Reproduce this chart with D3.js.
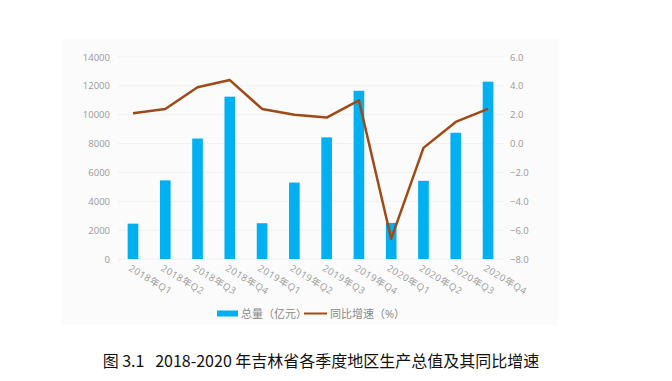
<!DOCTYPE html>
<html>
<head>
<meta charset="utf-8">
<script src="https://cdn.jsdelivr.net/npm/d3@7"></script>
<style>
  html, body { margin: 0; padding: 0; background: #fff; }
  svg { display: block; }
</style>
</head>
<body>
<svg id="chart"></svg>
<script>
// quarters, totals (亿元) and yoy growth (%)
const quarters = ["2018年Q1", "2018年Q2", "2018年Q3", "2018年Q4",
                  "2019年Q1", "2019年Q2", "2019年Q3", "2019年Q4",
                  "2020年Q1", "2020年Q2", "2020年Q3", "2020年Q4"];
const totals = [2450, 5450, 8350, 11250, 2480, 5300, 8430, 11660, 2500, 5420, 8750, 12290];
const growth = [2.1, 2.4, 3.9, 4.4, 2.4, 2.0, 1.8, 3.0, -6.6, -0.3, 1.5, 2.4];
const leftTicks = [0, 2000, 4000, 6000, 8000, 10000, 12000, 14000];
const rightTicks = [-8, -6, -4, -2, 0, 2, 4, 6];

const W = 672, H = 381;
const svg = d3.select("#chart").attr("width", W).attr("height", H);

// faint panel behind the chart
svg.append("rect")
    .attr("x", 62).attr("y", 39)
    .attr("width", 496).attr("height", 286)
    .attr("fill", "#fbfbfb");

const x = d3.scaleBand()
    .domain(quarters)
    .range([117, 504])
    .paddingInner(0.67)
    .paddingOuter(0.33);

const yL = d3.scaleLinear().domain([0, 14000]).range([259, 57]);
const yR = d3.scaleLinear().domain([-8, 6]).range([259, 57]);

const font = "'Open Sans', 'Noto Sans CJK SC', sans-serif";

// gridlines
svg.append("g")
    .selectAll("line")
    .data(leftTicks)
    .join("line")
    .attr("x1", 118).attr("x2", 504)
    .attr("y1", d => yL(d)).attr("y2", d => yL(d))
    .attr("stroke", "#f0f0f0")
    .attr("stroke-width", 1);

// left axis
const axL = svg.append("g")
    .attr("transform", "translate(110,0)")
    .call(d3.axisLeft(yL).tickValues(leftTicks).tickSize(0).tickPadding(0).tickFormat(d3.format("d")));
axL.select(".domain").remove();
axL.selectAll("text")
    .attr("fill", "#999")
    .style("font-family", font)
    .style("font-size", "9.5px");

// right axis
const axR = svg.append("g")
    .attr("transform", "translate(510,0)")
    .call(d3.axisRight(yR).tickValues(rightTicks).tickSize(0).tickPadding(0).tickFormat(d3.format(".1f")));
axR.select(".domain").remove();
axR.selectAll("text")
    .attr("fill", "#999")
    .style("font-family", font)
    .style("font-size", "9.5px");

// bars
svg.append("g")
    .selectAll("rect")
    .data(quarters)
    .join("rect")
    .attr("x", d => x(d))
    .attr("width", x.bandwidth())
    .attr("y", (d, i) => yL(totals[i]))
    .attr("height", (d, i) => yL(0) - yL(totals[i]))
    .attr("fill", "#00b0f0");

// growth line
const line = d3.line()
    .x((d, i) => x(quarters[i]) + x.bandwidth() / 2)
    .y(d => yR(d));

svg.append("path")
    .datum(growth)
    .attr("fill", "none")
    .attr("stroke", "#9e4a16")
    .attr("stroke-width", 2.5)
    .attr("stroke-linejoin", "round")
    .attr("d", line);

// x labels, slanted
svg.append("g")
    .selectAll("text")
    .data(quarters)
    .join("text")
    .attr("transform", d => `translate(${x(d) + x.bandwidth() / 2 - 5},${270}) rotate(31)`)
    .attr("text-anchor", "start")
    .attr("fill", "#999")
    .style("font-family", font)
    .style("font-size", "9.5px")
    .style("letter-spacing", "0.6px")
    .text(d => d);

// legend
const lg = svg.append("g").style("font-family", font).style("font-size", "11px");
lg.append("rect").attr("x", 217).attr("y", 310.5).attr("width", 21).attr("height", 6).attr("fill", "#00b0f0");
lg.append("text").attr("x", 241).attr("y", 317.5).attr("fill", "#888").text("总量（亿元）");
lg.append("line").attr("x1", 304).attr("x2", 327).attr("y1", 313.5).attr("y2", 313.5)
    .attr("stroke", "#9e4a16").attr("stroke-width", 2);
lg.append("text").attr("x", 330).attr("y", 317.5).attr("fill", "#888").text("同比增速（%）");

// caption
svg.append("text")
    .attr("x", 321).attr("y", 367)
    .attr("text-anchor", "middle")
    .attr("fill", "#111")
    .style("white-space", "pre")
    .style("font-family", "'Noto Sans CJK SC', sans-serif")
    .style("font-size", "16px")
    .text("图 3.1   2018-2020 年吉林省各季度地区生产总值及其同比增速");
</script>
</body>
</html>
